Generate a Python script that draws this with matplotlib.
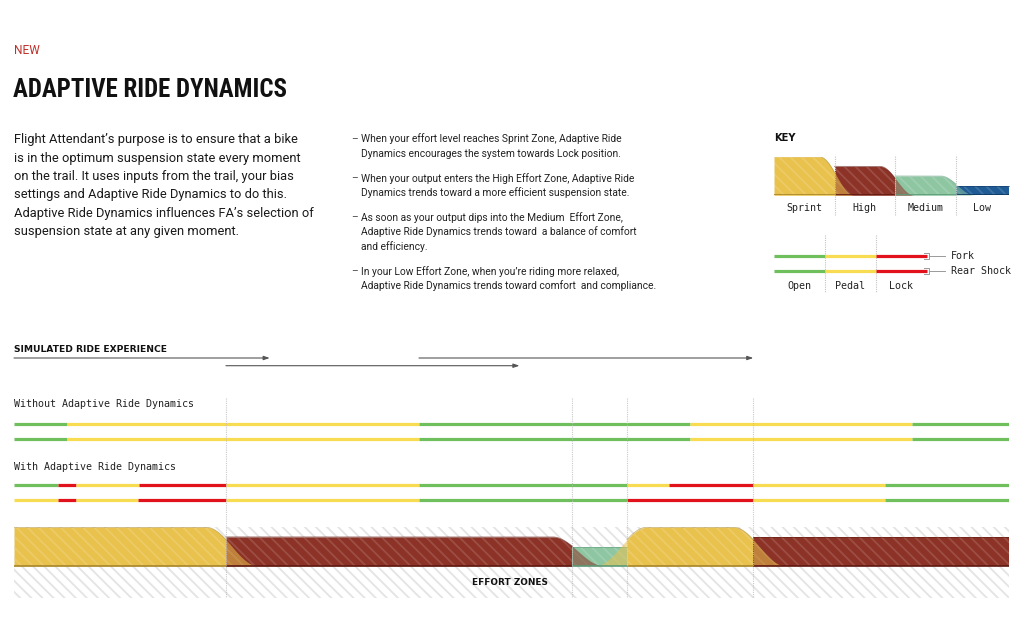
import numpy as np
import matplotlib
matplotlib.use("Agg")
import matplotlib.pyplot as plt

W, H = 1024, 623

# ride timeline in percent of the ride, one state per segment
wo_breaks = [0, 5.3, 40.7, 67.9, 90.3, 100]
wo_states = ['open', 'pedal', 'open', 'pedal', 'open']

with_fork_breaks = [0, 4.4, 6.2, 12.6, 21.3, 40.7, 61.6, 65.8, 74.3, 87.5, 100]
with_fork_states = ['open', 'lock', 'pedal', 'lock', 'pedal', 'open', 'pedal', 'lock', 'pedal', 'open']
with_rear_breaks = [0, 4.4, 6.2, 12.5, 21.3, 40.7, 61.6, 74.3, 87.5, 100]
with_rear_states = ['pedal', 'lock', 'pedal', 'lock', 'pedal', 'open', 'lock', 'pedal', 'open']

# effort zones along the ride
zone_breaks = [0, 21.3, 56.1, 61.6, 74.3, 100]
zone_names = ['Sprint', 'High', 'Medium', 'Sprint', 'High']
effort_level = {'Low': 1, 'Medium': 2, 'High': 3, 'Sprint': 4}

# arrows over the ride (start, end)
arrow_start = [0, 21.3, 40.7]
arrow_end = [25.7, 50.8, 74.3]

# key
key_names = ['Sprint', 'High', 'Medium', 'Low']
key_breaks = [0, 1, 2, 3, 3.88]
key_states = ['open', 'pedal', 'lock']
key_state_labels = ['Open', 'Pedal', 'Lock']

state_color = {'open': '#6fbf5c', 'pedal': '#f7dc52', 'lock': '#e1121b'}
zone_color = {'Sprint': '#e9c24e', 'High': '#8c3226', 'Medium': '#8ec6a2', 'Low': '#1f5b94'}
zone_dark = {'Sprint': '#a8862a', 'High': '#5e1810', 'Medium': '#5c9a78', 'Low': '#0e3660'}

bullets = [
    ["When your effort level reaches Sprint Zone, Adaptive Ride",
     "Dynamics encourages the system towards Lock position."],
    ["When your output enters the High Effort Zone, Adaptive Ride",
     "Dynamics trends toward a more efficient suspension state."],
    ["As soon as your output dips into the Medium  Effort Zone,",
     "Adaptive Ride Dynamics trends toward  a balance of comfort",
     "and efficiency."],
    ["In your Low Effort Zone, when you\u2019re riding more relaxed,",
     "Adaptive Ride Dynamics trends toward comfort  and compliance."],
]
intro = [
    "Flight Attendant\u2019s purpose is to ensure that a bike",
    "is in the optimum suspension state every moment",
    "on the trail. It uses inputs from the trail, your bias",
    "settings and Adaptive Ride Dynamics to do this.",
    "Adaptive Ride Dynamics influences FA\u2019s selection of",
    "suspension state at any given moment.",
]

plt.rcParams['hatch.linewidth'] = 1.3
body = ['Roboto', 'DejaVu Sans']
mono = ['DejaVu Sans Mono']


def profile(x, x0, x1, lvl, prev_lvl, next_lvl, r, t):
    # flat top, soft shoulders falling towards a lower neighbour
    y = np.full(len(x), float(lvl))
    if prev_lvl is not None and prev_lvl < lvl:
        m = x < x0 + r
        u = np.clip((x[m] - (x0 - t)) / (r + t), 0, 1)
        y[m] = lvl * 0.5 * (1 - np.cos(np.pi * u))
    if next_lvl is not None and next_lvl < lvl:
        m = x > x1 - r
        u = np.clip((x[m] - (x1 - r)) / (r + t), 0, 1)
        y[m] = lvl * 0.5 * (1 + np.cos(np.pi * u))
    return y


def draw_zones(a, breaks, names, r, t):
    levels = [effort_level[n] for n in names]
    n = len(names)
    args = []
    for i in range(n):
        prev_lvl = levels[i - 1] if i > 0 else None
        next_lvl = levels[i + 1] if i < n - 1 else None
        args.append((breaks[i], breaks[i + 1], levels[i], prev_lvl, next_lvl))
    # bodies
    for i in range(n):
        x0, x1 = args[i][0], args[i][1]
        xb = np.linspace(x0, x1, 500)
        yb = profile(xb, *args[i], r, t)
        a.fill_between(xb, 0, yb, color=zone_color[names[i]], lw=0, zorder=2)
        a.fill_between(xb, 0, yb, facecolor='none', edgecolor=(1, 1, 1, 0.14), hatch='\\\\\\',
                       lw=0, zorder=3)
        a.plot(xb, yb, color=zone_dark[names[i]], lw=0.6, alpha=0.6, zorder=4)
        a.plot([x0, x1], [0, 0], color=zone_dark[names[i]], lw=1.2, zorder=6,
               solid_capstyle='butt')
    # tails spilling into lower neighbours
    for i in range(n):
        x0, x1, lvl, prev_lvl, next_lvl = args[i]
        if prev_lvl is not None and prev_lvl < lvl:
            xt = np.linspace(x0 - t, x0, 80)
            a.fill_between(xt, 0, profile(xt, *args[i], r, t), color=zone_color[names[i]],
                           alpha=0.55, lw=0, zorder=5)
        if next_lvl is not None and next_lvl < lvl:
            xt = np.linspace(x1, x1 + t, 80)
            a.fill_between(xt, 0, profile(xt, *args[i], r, t), color=zone_color[names[i]],
                           alpha=0.55, lw=0, zorder=5)


def draw_states(a, breaks, states, y):
    for i in range(len(states)):
        a.plot([breaks[i], breaks[i + 1]], [y, y], color=state_color[states[i]], lw=2.3,
               solid_capstyle='butt')


fig = plt.figure(figsize=(W / 100, H / 100), dpi=100)
ax = fig.add_axes([0, 0, 1, 1])
ax.set_xlim(0, W)
ax.set_ylim(H, 0)
ax.axis('off')

# header texts
ax.text(14, 50, "NEW", color='#c0302a', fontsize=8.6, family=body, va='center')
ax.text(13, 90, "ADAPTIVE RIDE DYNAMICS", fontsize=17.9, weight='bold', fontstretch='condensed',
        family=['Liberation Sans Narrow', 'Roboto Condensed', 'DejaVu Sans'], va='center',
        color='#111111')
for k, line in enumerate(intro):
    ax.text(14, 140 + k * 18.3, line, fontsize=9.3, family=body, va='center', color='#1a1a1a')

yb = 139
for para in bullets:
    ax.text(351, yb, "\u2013", fontsize=7.4, family=body, va='center', color='#444444')
    for k, line in enumerate(para):
        ax.text(361, yb + k * 14.8, line, fontsize=7.4, family=body, va='center', color='#222222')
    yb += len(para) * 14.8 + 9.5

# simulated ride section
ax.text(14, 350, "SIMULATED RIDE EXPERIENCE", fontsize=6.6, weight='bold', va='center',
        color='#111111')
ax.text(14, 404, "Without Adaptive Ride Dynamics", fontsize=7.2, family=mono, va='center',
        color='#222222')
ax.text(14, 467, "With Adaptive Ride Dynamics", fontsize=7.2, family=mono, va='center',
        color='#222222')

rax = fig.add_axes([14 / W, 0, 995 / W, 1])
rax.set_xlim(0, 100)
rax.set_ylim(H, 0)
rax.axis('off')
rax.patch.set_visible(False)

arrow_y = [358, 365.7, 358]
for s, e, y in zip(arrow_start, arrow_end, arrow_y):
    rax.annotate("", xy=(e, y), xytext=(s, y),
                 arrowprops=dict(arrowstyle='-|>,head_length=0.35,head_width=0.12',
                                 color='#555555', lw=0.8, shrinkA=0, shrinkB=0))

draw_states(rax, wo_breaks, wo_states, 424.3)
draw_states(rax, wo_breaks, wo_states, 439)
draw_states(rax, with_fork_breaks, with_fork_states, 484.7)
draw_states(rax, with_rear_breaks, with_rear_states, 500)

# effort band
eax = fig.add_axes([14 / W, (H - 598) / H, 995 / W, (598 - 527.3) / H])
eax.set_xlim(0, 100)
eax.set_ylim(-3.36, 4.0)
eax.axis('off')
eax.patch.set_visible(False)
eax.fill_between([0, 100], -3.36, 4.0, facecolor='white', edgecolor='#e4e4e4', hatch='\\\\\\',
                 lw=0, zorder=0)
draw_zones(eax, zone_breaks, zone_names, 2.0, 3.2)
eax.text(49.85, -1.7, "EFFORT ZONES", fontsize=6.4, weight='bold', va='center', ha='center',
         color='#111111', zorder=10)

# dotted zone dividers over everything in the ride section
dax = fig.add_axes([14 / W, 0, 995 / W, 1])
dax.set_xlim(0, 100)
dax.set_ylim(H, 0)
dax.axis('off')
dax.patch.set_visible(False)
for b in zone_breaks[1:-1]:
    dax.plot([b, b], [398, 598], color='#bdbdbd', lw=0.8, ls=(0, (1, 1)), alpha=0.8)

# key
ax.text(774, 138, "KEY", fontsize=7.2, weight='bold', va='center', color='#111111')
kax = fig.add_axes([774 / W, (H - 195.3) / H, 236 / W, 38.6 / H])
kax.set_xlim(0, 3.9)
kax.set_ylim(0, 4)
kax.axis('off')
kax.patch.set_visible(False)
draw_zones(kax, key_breaks, key_names, 0.25, 0.32)
for b in key_breaks[1:-1]:
    kax.plot([b, b], [-2.05, 4.1], color='#c4c4c4', lw=0.8, ls=(0, (1, 1)), clip_on=False,
             zorder=7)
for i, name in enumerate(key_names):
    kax.text((key_breaks[i] + key_breaks[i + 1]) / 2, -1.32, name, fontsize=7.2, family=mono,
             ha='center', va='center', color='#222222')

seg = 51
for y in [255.7, 270.7]:
    for i, st in enumerate(key_states):
        ax.plot([774 + i * seg, 774 + (i + 1) * seg], [y, y], color=state_color[st], lw=2.3,
                solid_capstyle='butt')
    ax.plot([924, 928.5, 928.5, 924], [y - 3.2, y - 3.2, y + 3.2, y + 3.2], color='#9a9a9a', lw=0.7)
    ax.plot([928.5, 945], [y, y], color='#9a9a9a', lw=0.7)
ax.text(951, 255.7, "Fork", fontsize=7.2, family=mono, va='center', color='#222222')
ax.text(951, 270.7, "Rear Shock", fontsize=7.2, family=mono, va='center', color='#222222')
for i in range(1, len(key_states)):
    ax.plot([774 + i * seg] * 2, [235, 292], color='#c4c4c4', lw=0.8, ls=(0, (1, 1)), zorder=0)
for i, lab in enumerate(key_state_labels):
    ax.text(774 + (i + 0.5) * seg, 286, lab, fontsize=7.2, family=mono, ha='center', va='center',
            color='#222222')

fig.savefig("out.png", dpi=100, facecolor='white')
